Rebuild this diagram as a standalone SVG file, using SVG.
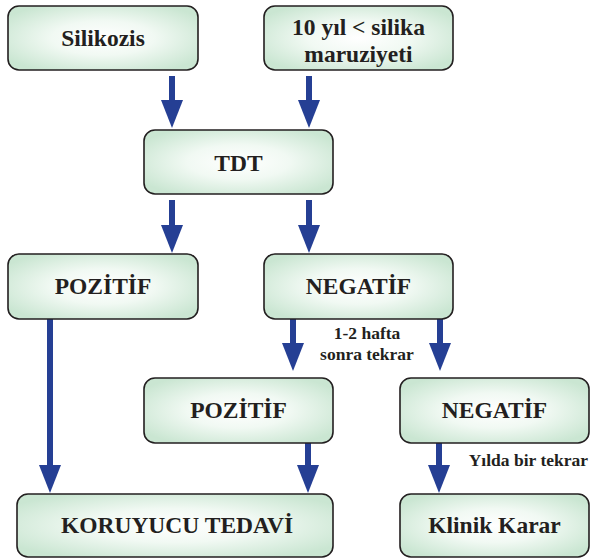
<svg xmlns="http://www.w3.org/2000/svg" width="591" height="559" viewBox="0 0 591 559">
<defs>
<radialGradient id="g" cx="50%" cy="50%" r="60%">
<stop offset="0" stop-color="#ffffff"/>
<stop offset="0.45" stop-color="#f1f9f3"/>
<stop offset="1" stop-color="#cae6d2"/>
</radialGradient>
<marker id="ah" markerUnits="userSpaceOnUse" markerWidth="28" markerHeight="22" viewBox="0 -11 28 22" refX="0" refY="0" orient="auto">
<path d="M0,-11 L28,0 L0,11 Z" fill="#253f94"/>
</marker>
</defs>
<style>
.box{fill:url(#g);stroke:#231f20;stroke-width:1.6}
.t{font-family:'Times New Roman','Liberation Serif','DejaVu Serif',serif;font-weight:700;font-size:23.5px;fill:#231f20;text-anchor:middle}
.s{font-family:'Times New Roman','Liberation Serif','DejaVu Serif',serif;font-weight:700;font-size:17.5px;fill:#231f20}
.c{stroke:#253f94;stroke-width:6;fill:none;marker-end:url(#ah)}
</style>
<g id="connectors">
<line class="c" x1="172" y1="76" x2="172" y2="100"/>
<line class="c" x1="309" y1="76" x2="309" y2="100"/>
<line class="c" x1="172" y1="200" x2="172" y2="225"/>
<line class="c" x1="309" y1="200" x2="309" y2="225"/>
<line class="c" x1="50" y1="319" x2="50" y2="465"/>
<line class="c" x1="293" y1="319" x2="293" y2="343"/>
<line class="c" x1="440" y1="319" x2="440" y2="343"/>
<line class="c" x1="308" y1="443" x2="308" y2="465"/>
<line class="c" x1="439" y1="443" x2="439" y2="465"/>
<text class="s" x="367" y="339" text-anchor="middle">1-2 hafta</text>
<text class="s" x="367" y="360" text-anchor="middle">sonra tekrar</text>
<text class="s" x="588" y="466" text-anchor="end">Yılda bir tekrar</text>
</g>
<g id="silikozis">
<rect class="box" x="8" y="6" width="190" height="64" rx="11"/>
<text class="t" x="103" y="46">Silikozis</text>
</g>
<g id="maruziyet">
<rect class="box" x="264" y="6" width="189" height="64" rx="11"/>
<text class="t" x="358.5" y="35">10 yıl &lt; silika</text>
<text class="t" x="358.5" y="62">maruziyeti</text>
</g>
<g id="tdt">
<rect class="box" x="144" y="130" width="189" height="64" rx="11"/>
<text class="t" x="238.5" y="171">TDT</text>
</g>
<g id="pozitif1">
<rect class="box" x="8" y="254" width="190" height="65" rx="11"/>
<text class="t" x="103" y="294">POZİTİF</text>
</g>
<g id="negatif1">
<rect class="box" x="264" y="254" width="189" height="65" rx="11"/>
<text class="t" x="358.5" y="294">NEGATİF</text>
</g>
<g id="pozitif2">
<rect class="box" x="144" y="378" width="189" height="65" rx="11"/>
<text class="t" x="238.5" y="418">POZİTİF</text>
</g>
<g id="negatif2">
<rect class="box" x="400" y="378" width="189" height="65" rx="11"/>
<text class="t" x="494.5" y="418">NEGATİF</text>
</g>
<g id="koruyucu">
<rect class="box" x="17" y="494" width="316" height="63" rx="11"/>
<text class="t" x="177" y="533">KORUYUCU TEDAVİ</text>
</g>
<g id="klinik">
<rect class="box" x="400" y="494" width="189" height="63" rx="11"/>
<text class="t" x="494.5" y="533">Klinik Karar</text>
</g>
</svg>
